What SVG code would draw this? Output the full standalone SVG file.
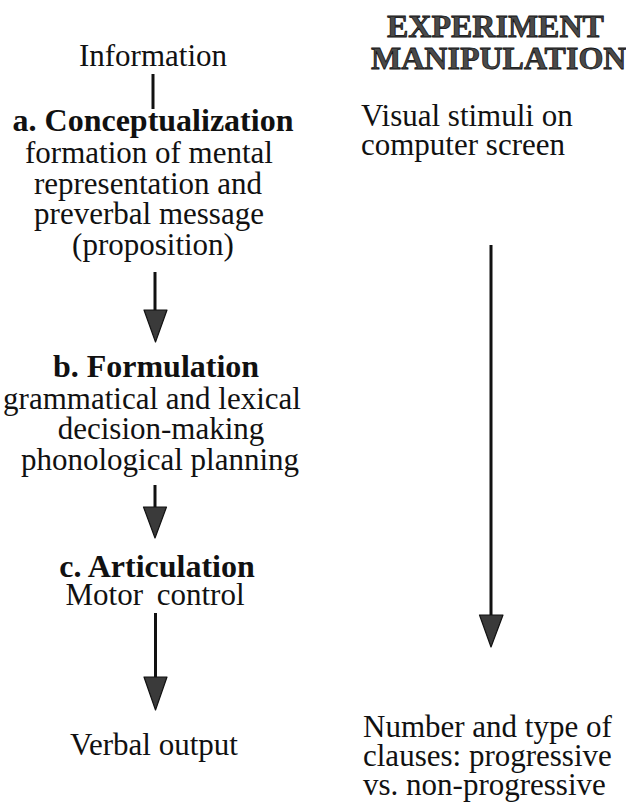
<svg xmlns="http://www.w3.org/2000/svg" width="626" height="812" viewBox="0 0 626 812">
<style>
text{font-family:"Liberation Serif","Times New Roman",serif;font-size:31px;fill:#111;text-anchor:middle}
.b{font-weight:bold;font-size:32px}
.h{font-weight:bold;font-size:32px;fill:#4a4a4a;stroke:#111;stroke-width:0.8;text-anchor:start}
.r{text-anchor:start}
.ln{stroke:#111;stroke-width:3;fill:none}
.ah{fill:#3a3a3a;stroke:#111;stroke-width:1.2;stroke-linejoin:round}
</style>
<rect width="626" height="812" fill="#fff"/>
<g id="information"><text x="153" y="66">Information</text></g>
<g id="conceptualization">
<text class="b" x="153" y="131">a. Conceptualization</text>
<text x="149" y="163">formation of mental</text>
<text x="148" y="194">representation and</text>
<text x="149" y="224">preverbal message</text>
<text x="153" y="255">(proposition)</text>
</g>
<g id="formulation">
<text class="b" x="156" y="377">b. Formulation</text>
<text x="152" y="409">grammatical and lexical</text>
<text x="161" y="439">decision-making</text>
<text x="160" y="470">phonological planning</text>
</g>
<g id="articulation">
<text class="b" x="157" y="577">c. Articulation</text>
<text x="155" y="605" style="word-spacing:6px">Motor control</text>
</g>
<g id="verbal-output"><text x="154" y="755">Verbal output</text></g>
<g id="experiment-manipulation">
<text class="h" x="387" y="37">EXPERIMENT</text>
<text class="h" x="371" y="69">MANIPULATION</text>
</g>
<g id="visual-stimuli">
<text class="r" x="361" y="126">Visual stimuli on</text>
<text class="r" x="361" y="155">computer screen</text>
</g>
<g id="clauses">
<text class="r" x="363" y="737">Number and type of</text>
<text class="r" x="363" y="766">clauses: progressive</text>
<text class="r" x="363" y="795">vs. non-progressive</text>
</g>
<g id="connectors">
<line class="ln" x1="153" y1="74" x2="153" y2="109"/>
<line class="ln" x1="155" y1="272" x2="155" y2="312"/>
<polygon class="ah" points="144,310 167,310 155.5,342"/>
<line class="ln" x1="155" y1="485" x2="155" y2="509"/>
<polygon class="ah" points="143.5,507 166.5,507 155,538"/>
<line class="ln" x1="155.5" y1="613" x2="155.5" y2="679"/>
<polygon class="ah" points="144,677 167,677 155.5,710"/>
<line class="ln" x1="491" y1="245" x2="491" y2="617"/>
<polygon class="ah" points="479.5,615 503,615 491,647"/>
</g>
</svg>
